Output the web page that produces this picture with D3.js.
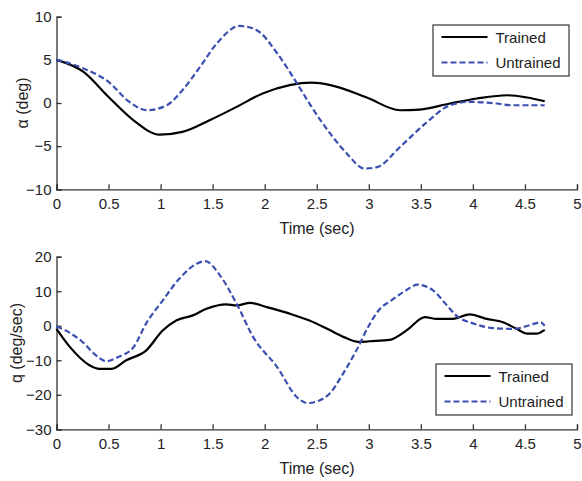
<!DOCTYPE html>
<html>
<head>
<meta charset="utf-8">
<script src="https://cdn.jsdelivr.net/npm/d3@7"></script>
<style>
  html, body { margin: 0; padding: 0; background: #fff; }
  svg { display: block; font-family: "Liberation Sans", Arial, sans-serif; }
</style>
</head>
<body>
<div id="plot"></div>
<script>
// Time ticks shared by both panels.
const timeTicks = [0, 0.5, 1, 1.5, 2, 2.5, 3, 3.5, 4, 4.5, 5];

// Angle of attack, [time (sec), alpha (deg)].
const alphaTicks = [-10, -5, 0, 5, 10];
const alphaTrained = [
    [0, 5.0], [0.26, 3.6], [0.5, 0.7], [0.74, -2.0], [0.99, -3.67], [1.21, -3.35],
    [1.47, -2.0], [1.73, -0.45], [1.98, 1.1], [2.24, 2.07], [2.45, 2.35], [2.63, 2.07],
    [2.98, 0.64], [3.30, -0.84], [3.49, -0.76], [3.78, -0.06], [4.04, 0.52], [4.33, 0.9],
    [4.52, 0.64], [4.69, 0.2]
];
const alphaUntrained = [
    [0, 5.0], [0.26, 4.0], [0.5, 2.45], [0.70, 0.13], [0.87, -0.84], [1.06, -0.26],
    [1.21, 1.49], [1.38, 4.2], [1.54, 6.9], [1.76, 8.93], [1.92, 8.47], [2.12, 5.76],
    [2.31, 2.27], [2.43, -0.06], [2.53, -1.9], [2.63, -3.55], [2.79, -5.87], [2.96, -7.6],
    [3.08, -7.43], [3.30, -5.1], [3.56, -2.2], [3.78, -0.26], [3.97, 0.13], [4.23, -0.06],
    [4.36, -0.26], [4.69, -0.26]
];

// Pitch rate, [time (sec), q (deg/sec)].
const qTicks = [-30, -20, -10, 0, 10, 20];
const qTrained = [
    [0, -0.9], [0.13, -6.2], [0.32, -11.5], [0.41, -12.5], [0.53, -12.5], [0.67, -10],
    [0.86, -7.2], [1.02, -1.4], [1.15, 1.5], [1.31, 3], [1.44, 4.9], [1.63, 6.2],
    [1.73, 5.9], [1.86, 6.6], [2.02, 5.4], [2.24, 3.5], [2.43, 1.5], [2.60, -0.9],
    [2.76, -3.3], [2.90, -4.7], [3.01, -4.5], [3.20, -4.1], [3.36, -1.4], [3.54, 2.5],
    [3.65, 2], [3.81, 2], [3.97, 3.3], [4.13, 2], [4.29, 1], [4.42, -0.9], [4.52, -2.3],
    [4.61, -2.3], [4.69, -1.2]
];
const qUntrained = [
    [0, -0.2], [0.09, -1.4], [0.25, -4.7], [0.38, -8.6], [0.48, -10.3], [0.59, -9.1],
    [0.74, -6.2], [0.86, 0.6], [1.02, 7.3], [1.19, 14], [1.35, 18], [1.43, 18.7],
    [1.57, 14.6], [1.73, 6.4], [1.89, -3.3], [2.12, -12], [2.31, -20.7], [2.41, -22.4],
    [2.53, -21.6], [2.63, -19.5], [2.74, -14.5], [2.88, -7.2], [3.0, 0], [3.11, 5.0],
    [3.2, 7.0], [3.33, 9.7], [3.47, 11.9], [3.62, 10.2], [3.75, 5.9], [3.85, 2.7],
    [4.01, 0.6], [4.17, -0.6], [4.39, -0.9], [4.55, 0.2], [4.65, 1.0], [4.69, 0]
];

const seriesNames = ["Trained", "Untrained"];

const width = 582, height = 481;
const blue = "#3a4fb0", ink = "#222";

const svg = d3.select("div#plot").append("svg")
    .attr("width", width)
    .attr("height", height)
    .attr("viewBox", "0 0 " + width + " " + height);

svg.append("rect").attr("width", width).attr("height", height).attr("fill", "#fff");

function draw_panel(p) {
    const x = d3.scaleLinear().domain([0, 5]).range([56.5, 577]);
    const y = d3.scaleLinear().domain(p.y_domain).range([p.bottom, p.top]);
    const g = svg.append("g");

    // Bottom axis, ticks pointing inward.
    const xa = g.append("g")
        .attr("transform", "translate(0," + p.bottom + ")")
        .call(d3.axisBottom(x).tickValues(timeTicks).tickSize(-5).tickPadding(9)
            .tickFormat(d3.format("")));

    // Left axis, ticks pointing inward.
    const ya = g.append("g")
        .attr("transform", "translate(56.5,0)")
        .call(d3.axisLeft(y).tickValues(p.y_ticks).tickSize(-5).tickPadding(5)
            .tickFormat(d3.format("")));

    [xa, ya].forEach(a => {
        a.select(".domain").attr("stroke", "#333").attr("stroke-width", 1.3);
        a.selectAll(".tick line").attr("stroke", "#333").attr("stroke-width", 1.3);
        a.selectAll(".tick text").attr("fill", ink).style("font-size", "15px");
    });
    xa.selectAll(".tick text").attr("dy", "0.71em");

    // Axis titles.
    g.append("text")
        .attr("x", 317).attr("y", p.bottom + 45)
        .attr("text-anchor", "middle")
        .style("font-size", "16px").attr("fill", ink)
        .text("Time (sec)");

    g.append("text")
        .attr("transform", "translate(" + p.label_x + "," + (p.top + p.bottom) / 2 + ") rotate(-90)")
        .attr("text-anchor", "middle")
        .style("font-size", "16px").attr("fill", ink)
        .text(p.y_label);

    // Data lines.
    const line = d3.line()
        .x(d => x(d[0]))
        .y(d => y(d[1]))
        .curve(d3.curveMonotoneX);

    g.append("path").datum(p.trained)
        .attr("d", line).attr("fill", "none")
        .attr("stroke", "#000").attr("stroke-width", 2.2);

    g.append("path").datum(p.untrained)
        .attr("d", line).attr("fill", "none")
        .attr("stroke", blue).attr("stroke-width", 2.2)
        .attr("stroke-dasharray", "6,3");

    // Legend box.
    const lg = g.append("g").attr("transform", "translate(" + p.legend[0] + "," + p.legend[1] + ")");
    lg.append("rect")
        .attr("x", 0.5).attr("y", 0.5).attr("width", 136).attr("height", 51)
        .attr("fill", "#fff").attr("stroke", "#333").attr("stroke-width", 1.2);

    seriesNames.forEach((name, i) => {
        const ly = 12.5 + i * 25.5;
        lg.append("line")
            .attr("x1", 9).attr("x2", 55).attr("y1", ly).attr("y2", ly)
            .attr("stroke", i === 0 ? "#000" : blue).attr("stroke-width", 2.2)
            .attr("stroke-dasharray", i === 0 ? null : "6,3");
        lg.append("text")
            .attr("x", 63).attr("y", ly + 5.5)
            .style("font-size", "15px").attr("fill", ink)
            .text(name);
    });
}

draw_panel({
    top: 16.7, bottom: 189.3, y_domain: [-10, 10], y_ticks: alphaTicks,
    y_label: "α (deg)", label_x: 28, trained: alphaTrained, untrained: alphaUntrained,
    legend: [432.5, 24.5]
});

draw_panel({
    top: 256.7, bottom: 429.3, y_domain: [-30, 20], y_ticks: qTicks,
    y_label: "q (deg/sec)", label_x: 22, trained: qTrained, untrained: qUntrained,
    legend: [435.5, 363.5]
});
</script>
</body>
</html>
